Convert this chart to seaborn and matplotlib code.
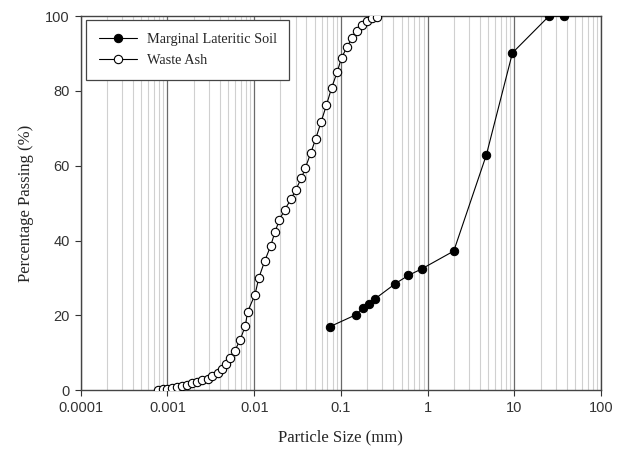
import numpy as np
import pandas as pd
import seaborn as sns
import matplotlib.pyplot as plt
from matplotlib.ticker import LogLocator, FixedLocator, NullFormatter

# sieve data - marginal lateritic soil
soil_size = [0.075, 0.15, 0.18, 0.21, 0.25, 0.425, 0.6, 0.85, 2.0, 4.75, 9.5, 25.0, 37.5]
soil_pass = [17.0, 20.2, 22.1, 23.0, 24.5, 28.5, 30.7, 32.4, 37.2, 62.9, 90.2, 100.0, 100.0]

# laser / hydrometer data - waste ash
ash_size = [0.00078, 0.00089, 0.0010, 0.00114, 0.0013, 0.00148, 0.0017, 0.0019, 0.0022,
            0.0025, 0.0029, 0.0033, 0.0038, 0.0043, 0.0047, 0.0052, 0.0060, 0.0069,
            0.0079, 0.0084, 0.0102, 0.0113, 0.0132, 0.0155, 0.0173, 0.0195, 0.0225,
            0.0265, 0.030, 0.0349, 0.039, 0.0447, 0.051, 0.059, 0.068, 0.078, 0.0906,
            0.1016, 0.118, 0.135, 0.154, 0.176, 0.20, 0.23, 0.262]
ash_pass = [0.0, 0.2, 0.35, 0.5, 0.8, 1.1, 1.4, 1.8, 2.1,
            2.6, 3.0, 3.7, 4.5, 5.6, 6.9, 8.5, 10.6, 13.5,
            17.2, 21.0, 25.5, 30.0, 34.5, 38.6, 42.2, 45.5, 48.3,
            51.0, 53.5, 56.6, 59.5, 63.3, 67.1, 71.7, 76.2, 80.8, 85.1,
            88.9, 91.8, 94.3, 96.1, 97.6, 98.7, 99.4, 99.8]

x_ticks = [0.0001, 0.001, 0.01, 0.1, 1, 10, 100]
x_labels = ["0.0001", "0.001", "0.01", "0.1", "1", "10", "100"]
y_ticks = [0, 20, 40, 60, 80, 100]

soil = pd.DataFrame({"size": soil_size, "passing": soil_pass})
ash = pd.DataFrame({"size": ash_size, "passing": ash_pass})

sns.set_theme(style="white")
plt.rcParams["font.family"] = ["Liberation Serif", "DejaVu Serif"]

fig = plt.figure(figsize=(6.21, 4.5), dpi=100)
ax = fig.add_axes([0.130, 0.133, 0.838, 0.831])

sns.lineplot(data=soil, x="size", y="passing", ax=ax, color="black", lw=0.8,
             marker="o", markersize=6, markerfacecolor="black", markeredgecolor="black",
             label="Marginal Lateritic Soil", zorder=4)
sns.lineplot(data=ash, x="size", y="passing", ax=ax, color="black", lw=0.8,
             marker="o", markersize=6, markerfacecolor="white", markeredgecolor="black",
             markeredgewidth=0.8, label="Waste Ash", zorder=4)

ax.set_xscale("log")
ax.set_xlim(0.0001, 100)
ax.set_ylim(0, 100)

# vertical grid: decades darker, 2..9 lighter
ax.xaxis.set_minor_locator(LogLocator(base=10, subs=np.arange(2, 10)))
ax.xaxis.set_minor_formatter(NullFormatter())
ax.grid(False)
ax.grid(True, which="minor", axis="x", color="#d0d0d0", lw=0.8)
ax.grid(True, which="major", axis="x", color="#6a6a6a", lw=0.9)
ax.set_axisbelow(True)

ax.xaxis.set_major_locator(FixedLocator(x_ticks))
ax.set_xticklabels(x_labels, family=["Liberation Sans", "DejaVu Sans"], fontsize=10.5, color="#333333")
ax.set_yticks(y_ticks)
ax.set_yticklabels([str(v) for v in y_ticks], family=["Liberation Sans", "DejaVu Sans"],
                   fontsize=10.5, color="#333333")
ax.tick_params(axis="both", which="major", direction="out", length=4, width=0.8,
               color="#333333", bottom=True, left=True, pad=4)
ax.tick_params(axis="x", which="minor", length=0)

for s in ax.spines.values():
    s.set_color("#444444")
    s.set_linewidth(1.0)

ax.set_xlabel("Particle Size (mm)", fontsize=12, labelpad=10)
ax.set_ylabel("Percentage Passing (%)", fontsize=12, labelpad=8)

leg = ax.legend(loc="upper left", frameon=True, fancybox=False, fontsize=10.3,
                borderpad=0.9, handlelength=2.6, labelspacing=0.55, handletextpad=0.7,
                borderaxespad=0, bbox_to_anchor=(0.011, 0.99))
leg.get_frame().set_edgecolor("#444444")
leg.get_frame().set_linewidth(0.9)
leg.get_frame().set_alpha(1)

fig.savefig("out.png", dpi=100)
